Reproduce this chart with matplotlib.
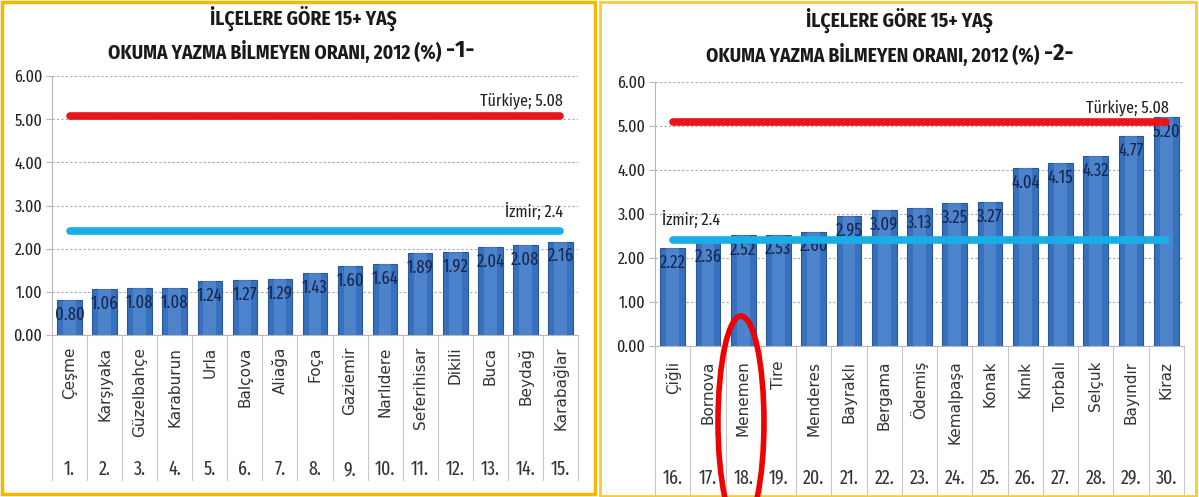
import matplotlib
matplotlib.use("Agg")
import matplotlib.pyplot as plt
from matplotlib.patches import Rectangle, Ellipse

W, H = 1199, 497

# data
left_names = ['Çeşme', 'Karşıyaka', 'Güzelbahçe', 'Karaburun', 'Urla', 'Balçova', 'Aliağa',
              'Foça', 'Gaziemir', 'Narlıdere', 'Seferihisar', 'Dikili', 'Buca', 'Beydağ', 'Karabağlar']
left_vals = [0.80, 1.06, 1.08, 1.08, 1.24, 1.27, 1.29, 1.43, 1.60, 1.64, 1.89, 1.92, 2.04, 2.08, 2.16]
right_names = ['Çiğli', 'Bornova', 'Menemen', 'Tire', 'Menderes', 'Bayraklı', 'Bergama', 'Ödemiş',
               'Kemalpaşa', 'Konak', 'Kınık', 'Torbalı', 'Selçuk', 'Bayındır', 'Kiraz']
right_vals = [2.22, 2.36, 2.52, 2.53, 2.60, 2.95, 3.09, 3.13, 3.25, 3.27, 4.04, 4.15, 4.32, 4.77, 5.20]
left_ranks = [f"{i}." for i in range(1, 16)]
right_ranks = [f"{i}." for i in range(16, 31)]
turkiye = 5.08
izmir = 2.4
yticks = [0, 1, 2, 3, 4, 5, 6]

narrow = ['Fira Sans Extra Condensed', 'DejaVu Sans']
title_font = ['Fira Sans Condensed', 'DejaVu Sans']

fig = plt.figure(figsize=(W / 100, H / 100), dpi=100)
fig.patch.set_facecolor('white')


def fx(x):
    return x / W


def fy(y):
    return 1 - y / H


def panel(box, names, vals, ranks, label_y, rank_y, sep_y, izmir_left):
    x0, ytop, x1, ybot = box
    ax = fig.add_axes([fx(x0), fy(ybot), (x1 - x0) / W, (ybot - ytop) / H])
    n = len(vals)
    xs = list(range(n))
    ax.bar(xs, vals, width=0.7, color='#3670BE', edgecolor='#2A5796', linewidth=0.8, zorder=2)
    # soft highlight down the middle of each bar
    ax.bar(xs, vals, width=0.36, color='#6A9BDB', alpha=0.45, linewidth=0, zorder=2.1)
    ax.set_xlim(-0.5, n - 0.5)
    ax.set_ylim(0, 6)
    ax.set_yticks(yticks)
    ax.set_yticklabels([f"{t:.2f}" for t in yticks], family=narrow, fontsize=12.5, color='#222222')
    ax.set_xticks([])
    ax.grid(axis='y', color='#a8a8a8', linestyle=(0, (2, 2)), linewidth=0.8, zorder=0)
    for s in ['top', 'right']:
        ax.spines[s].set_visible(False)
    ax.spines['left'].set_color('#b8b8b8')
    ax.spines['bottom'].set_color('#b8b8b8')
    ax.tick_params(axis='y', length=4, color='#b8b8b8', pad=3)

    for i, v in enumerate(vals):
        ax.annotate(f"{v:.2f}", (i, v), xytext=(0, -4), textcoords='offset points',
                    ha='center', va='top', fontsize=13, family=narrow, color='#17274d', zorder=3)

    ax.plot([0, n - 1], [turkiye, turkiye], color='#E8151B', lw=5.5,
            solid_capstyle='round', zorder=4)
    ax.plot([0, n - 1], [izmir, izmir], color='#1AAEE6', lw=5.5,
            solid_capstyle='round', zorder=4)
    ax.annotate(f"Türkiye; {turkiye:.2f}", (n - 1, turkiye), xytext=(2, 5),
                textcoords='offset points', ha='right', va='bottom', fontsize=12.5,
                family=narrow, color='#222222')
    if izmir_left:
        ax.annotate(f"İzmir; {izmir}", (0, izmir), xytext=(-8, 9),
                    textcoords='offset points', ha='left', va='bottom', fontsize=12.5,
                    family=narrow, color='#222222')
    else:
        ax.annotate(f"İzmir; {izmir}", (n - 1, izmir), xytext=(2, 8),
                    textcoords='offset points', ha='right', va='bottom', fontsize=12.5,
                    family=narrow, color='#222222')

    tr = ax.get_xaxis_transform()
    for i, (name, rk) in enumerate(zip(names, ranks)):
        ax.text(i, label_y, name, rotation=90, ha='center', va='top', transform=tr,
                fontsize=11, color='#333333', clip_on=False)
        ax.text(i, rank_y, rk, ha='center', va='center', transform=tr,
                fontsize=14, family=narrow, color='#333333', clip_on=False)
    for b in range(n + 1):
        ax.plot([b - 0.5, b - 0.5], [0, sep_y], transform=tr, color='#c8c8c8',
                lw=0.8, clip_on=False)
    return ax


panel((52, 76, 578, 335), left_names, left_vals, left_ranks, -0.045, -0.52, -0.56, False)
panel((655, 82, 1184, 346), right_names, right_vals, right_ranks, -0.055, -0.50, -0.58, True)

# titles
tk = dict(family=title_font, fontweight='bold', color='#1a1a1a')
fig.text(fx(303), fy(18), "İLÇELERE GÖRE 15+ YAŞ", ha='center', va='center', fontsize=14, **tk)
fig.text(fx(441), fy(52), "OKUMA YAZMA BİLMEYEN ORANI, 2012 (%)", ha='right', va='center',
         fontsize=14, **tk)
fig.text(fx(446), fy(50), "-1-", ha='left', va='center', fontsize=17.5, **tk)
fig.text(fx(899), fy(20), "İLÇELERE GÖRE 15+ YAŞ", ha='center', va='center', fontsize=14, **tk)
fig.text(fx(1039), fy(55), "OKUMA YAZMA BİLMEYEN ORANI, 2012 (%)", ha='right', va='center',
         fontsize=14, **tk)
fig.text(fx(1044), fy(53), "-2-", ha='left', va='center', fontsize=17.5, **tk)

# panel borders
fig.add_artist(Rectangle((fx(2), fy(494)), (595 - 2) / W, (494 - 2) / H, fill=False,
                         ec='#F5B800', lw=2.5, transform=fig.transFigure))
fig.add_artist(Rectangle((fx(600), fy(496)), (1196 - 600) / W, (496 - 2) / H, fill=False,
                         ec='#F8CB3A', lw=2, transform=fig.transFigure))

# highlight ellipse
fig.add_artist(Ellipse((fx(741), fy(422)), 46 / W, 212 / H, fill=False, ec='#F00000', lw=4,
                       transform=fig.transFigure, zorder=10))

fig.savefig("out.png", dpi=100)
